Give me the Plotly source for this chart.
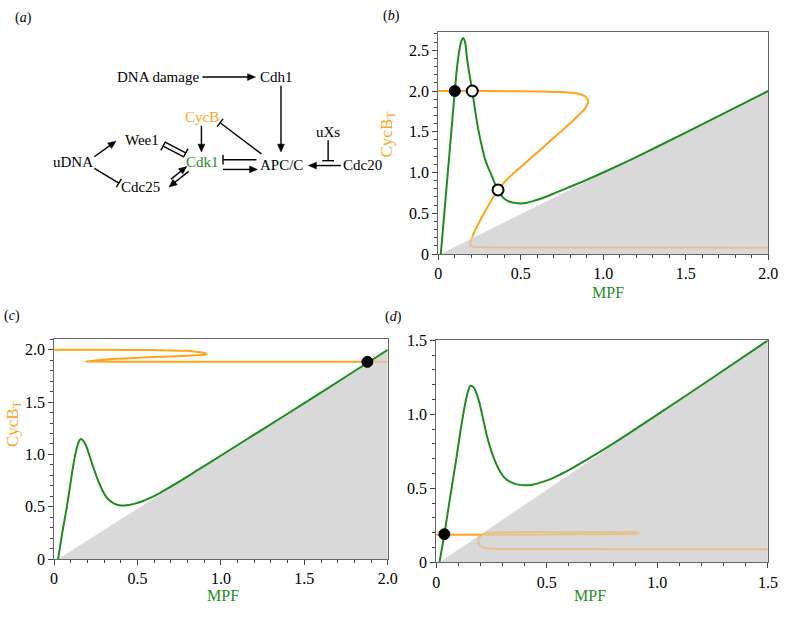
import plotly.graph_objects as go

W, H = 788, 618
GREEN = '#1e8c1e'
ORANGE = '#ffa31a'
PALE = '#e8c08c'
GRAY = '#d9d9d9'
FONT = 'Liberation Serif'

# ---------------- data ----------------
# panel (b)
b_green_x = [0.016, 0.04, 0.07, 0.101, 0.115, 0.13, 0.142, 0.151, 0.163, 0.175, 0.19, 0.207,
             0.225, 0.244, 0.265, 0.284, 0.305, 0.324, 0.345, 0.363, 0.383, 0.403, 0.43, 0.46,
             0.5, 0.54, 0.58, 0.65, 0.72, 0.8, 0.9, 1.0, 1.2, 1.5, 2.0]
b_green_y = [0.0, 0.56, 1.27, 2.0, 2.3, 2.52, 2.62, 2.65, 2.6, 2.4, 2.2, 2.0,
             1.75, 1.52, 1.32, 1.165, 1.05, 0.966, 0.86, 0.787, 0.72, 0.675, 0.645, 0.628,
             0.62, 0.63, 0.653, 0.7, 0.76, 0.825, 0.91, 1.0, 1.19, 1.49, 2.0]
b_orange_x = [0.0, 0.2, 0.4, 0.6, 0.76, 0.82, 0.86, 0.89, 0.905, 0.91, 0.9, 0.889, 0.86, 0.82,
              0.72, 0.62, 0.522, 0.423, 0.363, 0.314, 0.264, 0.224, 0.205]
b_orange_y = [2.0, 2.0, 1.998, 1.993, 1.985, 1.975, 1.96, 1.935, 1.9, 1.865, 1.825, 1.78, 1.72, 1.64,
              1.46, 1.28, 1.105, 0.926, 0.787, 0.628, 0.449, 0.29, 0.2]
b_pale_x = [0.205, 0.197, 0.193, 0.2, 0.22, 0.264, 0.5, 1.0, 1.5, 2.0]
b_pale_y = [0.2, 0.16, 0.125, 0.1, 0.088, 0.083, 0.081, 0.08, 0.079, 0.078]
b_shade_x = [0.016, 2.0, 2.0]
b_shade_y = [0.0, 2.0, 0.0]
b_stable_x, b_stable_y = [0.101], [2.0]
b_unstable_x, b_unstable_y = [0.207, 0.363], [2.0, 0.787]

# panel (c)
c_green_x = [0.024, 0.05, 0.073, 0.095, 0.112, 0.13, 0.145, 0.16, 0.175, 0.19, 0.21, 0.23, 0.25,
             0.269, 0.29, 0.31, 0.33, 0.36, 0.39, 0.42, 0.45, 0.485, 0.53, 0.583, 0.63, 0.681,
             0.75, 0.85, 1.0, 1.25, 1.5, 1.75, 2.0]
c_green_y = [0.0, 0.26, 0.465, 0.69, 0.868, 1.02, 1.11, 1.147, 1.13, 1.09, 1.0, 0.9, 0.81,
             0.73, 0.655, 0.6, 0.565, 0.53, 0.515, 0.513, 0.518, 0.53, 0.553, 0.589, 0.628, 0.675,
             0.74, 0.84, 0.99, 1.24, 1.49, 1.745, 2.0]
c_orange_x = [0.0, 0.3, 0.6, 0.8, 0.86, 0.9, 0.915, 0.9, 0.85, 0.7, 0.5, 0.35, 0.25, 0.19,
              0.25, 0.5, 1.0, 1.5, 1.878]
c_orange_y = [2.0, 2.0, 1.997, 1.99, 1.98, 1.97, 1.96, 1.952, 1.947, 1.937, 1.925, 1.912, 1.898, 1.888,
              1.887, 1.886, 1.885, 1.885, 1.885]
c_pale_x = [1.878, 2.0]
c_pale_y = [1.885, 1.885]
c_shade_x = [0.024, 2.0, 2.0]
c_shade_y = [0.0, 2.0, 0.0]
c_stable_x, c_stable_y = [1.878], [1.885]

# panel (d)
d_green_x = [0.015, 0.037, 0.06, 0.089, 0.105, 0.12, 0.135, 0.145, 0.155, 0.17, 0.185, 0.2,
             0.215, 0.23, 0.25, 0.27, 0.29, 0.31, 0.34, 0.37, 0.4, 0.44, 0.489, 0.53, 0.563,
             0.62, 0.7, 0.8, 1.0, 1.25, 1.5]
d_green_y = [0.0, 0.19, 0.41, 0.68, 0.84, 0.98, 1.1, 1.16, 1.193, 1.18, 1.13, 1.05,
             0.95, 0.85, 0.75, 0.67, 0.61, 0.57, 0.54, 0.525, 0.52, 0.526, 0.547, 0.57, 0.595,
             0.64, 0.71, 0.802, 0.998, 1.247, 1.5]
d_orange_x = [0.0, 0.1, 0.207]
d_orange_y = [0.186, 0.186, 0.186]
d_pale_x = [0.207, 0.4, 0.6, 0.8, 0.88, 0.905, 0.915, 0.905, 0.85, 0.6, 0.35, 0.25, 0.215, 0.196,
            0.191, 0.197, 0.215, 0.26, 0.4, 0.8, 1.2, 1.5]
d_pale_y = [0.186, 0.187, 0.189, 0.191, 0.193, 0.195, 0.199, 0.202, 0.204, 0.204, 0.204, 0.201, 0.192,
            0.17, 0.14, 0.113, 0.098, 0.092, 0.09, 0.089, 0.088, 0.088]
d_shade_x = [0.015, 1.5, 1.5]
d_shade_y = [0.0, 1.5, 0.0]
d_stable_x, d_stable_y = [0.037], [0.19]

# tick labels
ticks_2 = [0, 0.5, 1.0, 1.5, 2.0]
ticks_2_text = ['0', '0.5', '1.0', '1.5', '2.0']
ticks_25 = [0, 0.5, 1.0, 1.5, 2.0, 2.5]
ticks_25_text = ['0', '0.5', '1.0', '1.5', '2.0', '2.5']
ticks_15 = [0, 0.5, 1.0, 1.5]
ticks_15_text = ['0', '0.5', '1.0', '1.5']

# ---------------- figure ----------------
fig = go.Figure()


def add_panel(xa, ya, shade_x, shade_y, green_x, green_y, orange_x, orange_y, pale_x, pale_y,
              stable_x, stable_y, unstable_x=None, unstable_y=None):
    fig.add_trace(go.Scatter(x=shade_x, y=shade_y, fill='toself', fillcolor=GRAY,
                             line=dict(width=0), mode='lines', xaxis=xa, yaxis=ya,
                             showlegend=False, hoverinfo='skip'))
    fig.add_trace(go.Scatter(x=green_x, y=green_y, mode='lines',
                             line=dict(color=GREEN, width=2, shape='spline', smoothing=0.8),
                             xaxis=xa, yaxis=ya, showlegend=False))
    fig.add_trace(go.Scatter(x=pale_x, y=pale_y, mode='lines',
                             line=dict(color=PALE, width=2, shape='spline', smoothing=0.8),
                             xaxis=xa, yaxis=ya, showlegend=False))
    fig.add_trace(go.Scatter(x=orange_x, y=orange_y, mode='lines',
                             line=dict(color=ORANGE, width=2, shape='spline', smoothing=0.8),
                             xaxis=xa, yaxis=ya, showlegend=False))
    fig.add_trace(go.Scatter(x=stable_x, y=stable_y, mode='markers',
                             marker=dict(color='black', size=11, line=dict(color='black', width=1)),
                             xaxis=xa, yaxis=ya, showlegend=False, cliponaxis=False))
    if unstable_x:
        fig.add_trace(go.Scatter(x=unstable_x, y=unstable_y, mode='markers',
                                 marker=dict(color='white', size=11, line=dict(color='black', width=2)),
                                 xaxis=xa, yaxis=ya, showlegend=False))


add_panel('x', 'y', b_shade_x, b_shade_y, b_green_x, b_green_y, b_orange_x, b_orange_y,
          b_pale_x, b_pale_y, b_stable_x, b_stable_y, b_unstable_x, b_unstable_y)
add_panel('x2', 'y2', c_shade_x, c_shade_y, c_green_x, c_green_y, c_orange_x, c_orange_y,
          c_pale_x, c_pale_y, c_stable_x, c_stable_y)
add_panel('x3', 'y3', d_shade_x, d_shade_y, d_green_x, d_green_y, d_orange_x, d_orange_y,
          d_pale_x, d_pale_y, d_stable_x, d_stable_y)


def px_dom_x(a, b):
    return [a / W, b / W]


def px_dom_y(top, bottom):
    return [1 - bottom / H, 1 - top / H]


def axis(rng, dom, tv, tt, anchor):
    return dict(range=rng, domain=dom, anchor=anchor, tickmode='array', tickvals=tv, ticktext=tt,
                ticks='outside', ticklen=5, tickwidth=1, tickcolor='#444',
                showline=True, linecolor='#666', linewidth=1, mirror=True,
                showgrid=False, zeroline=False,
                tickfont=dict(family=FONT, size=16, color='black'),
                minor=dict(tickmode='linear', tick0=0, dtick=0.1, ticks='outside', ticklen=3,
                           tickcolor='#444', showgrid=False))


fig.update_layout(
    width=W, height=H, margin=dict(l=0, r=0, t=0, b=0),
    paper_bgcolor='white', plot_bgcolor='white',
    xaxis=axis([0, 2], px_dom_x(442, 778), ticks_2, ticks_2_text, 'y'),
    yaxis=axis([0, 2.72], px_dom_y(25, 253), ticks_25, ticks_25_text, 'x'),
    xaxis2=axis([0, 2], px_dom_x(51, 390.7), ticks_2, ticks_2_text, 'y2'),
    yaxis2=axis([0, 2.1], px_dom_y(340.7, 566.7), ticks_2, ticks_2_text, 'x2'),
    xaxis3=axis([0, 1.5], px_dom_x(440, 777.7), ticks_15, ticks_15_text, 'y3'),
    yaxis3=axis([0, 1.5], px_dom_y(341.7, 570), ticks_15, ticks_15_text, 'x3'),
)

ann = []
shapes = []


def P(x, y):
    return x / W, 1 - y / H


def text(x, y, s, size=15, color='black', angle=0):
    px, py = P(x, y)
    ann.append(dict(x=px, y=py, xref='paper', yref='paper', text=s, showarrow=False,
                    xanchor='center', yanchor='middle', textangle=angle,
                    font=dict(family=FONT, size=size, color=color)))


def seg(x0, y0, x1, y1):
    a, b = P(x0, y0), P(x1, y1)
    shapes.append(dict(type='line', xref='paper', yref='paper', x0=a[0], y0=a[1], x1=b[0], y1=b[1],
                       line=dict(color='black', width=1.4)))


def arrow(x0, y0, x1, y1, hl=8, hw=3.5):
    dx, dy = x1 - x0, y1 - y0
    L = (dx * dx + dy * dy) ** 0.5
    ux, uy = dx / L, dy / L
    nx, ny = -uy, ux
    seg(x0, y0, x1 - ux * hl * 0.7, y1 - uy * hl * 0.7)
    bx, by = x1 - ux * hl, y1 - uy * hl
    pts = [P(x1, y1), P(bx + nx * hw, by + ny * hw), P(bx - nx * hw, by - ny * hw)]
    path = 'M {:.5f},{:.5f} L {:.5f},{:.5f} L {:.5f},{:.5f} Z'.format(
        pts[0][0], pts[0][1], pts[1][0], pts[1][1], pts[2][0], pts[2][1])
    shapes.append(dict(type='path', xref='paper', yref='paper', path=path,
                       fillcolor='black', line=dict(color='black', width=0.5)))


def tbar(x0, y0, x1, y1, half=5):
    dx, dy = x1 - x0, y1 - y0
    L = (dx * dx + dy * dy) ** 0.5
    nx, ny = -dy / L, dx / L
    seg(x0, y0, x1, y1)
    seg(x1 + nx * half, y1 + ny * half, x1 - nx * half, y1 - ny * half)


# panel letters
text(20, 10, '(<i>a</i>)', 14)
text(394, 8, '(<i>b</i>)', 14)
text(8, 317, '(<i>c</i>)', 14)
text(397, 318, '(<i>d</i>)', 14)

# axis titles
text(615, 293, 'MPF', 16, GREEN)
text(223, 604, 'MPF', 16, GREEN)
text(597, 604, 'MPF', 16, GREEN)
text(391, 130, 'CycB<sub>T</sub>', 17, ORANGE, -90)
text(10, 427, 'CycB<sub>T</sub>', 17, ORANGE, -90)

# network diagram (a)
text(157, 71, 'DNA damage')
text(277, 71, 'Cdh1')
text(202, 112, 'CycB', color=ORANGE)
text(140, 136, 'Wee1')
text(70, 158, 'uDNA')
text(202, 158, 'Cdk1', color=GREEN)
text(283, 161, 'APC/C')
text(330, 127, 'uXs')
text(365, 161, 'Cdc20')
text(139, 184, 'Cdc25')

arrow(202, 71, 256, 71)
arrow(282, 80, 282, 148)
arrow(201, 121, 201, 148)
tbar(262, 150, 220, 118)
arrow(223, 166, 258, 166)
tbar(257, 156, 223, 156)
arrow(343, 162, 310, 162)
tbar(330, 136, 330, 157, 6)
arrow(92, 153, 114, 137)
tbar(92, 165, 117, 180)
tbar(164, 138, 185, 149)
tbar(183, 153, 162, 142)
arrow(170, 176, 186, 163)
arrow(188, 168, 168, 184)

fig.update_layout(annotations=ann, shapes=shapes)
fig.write_html('out.html', config={'displayModeBar': False},
               post_script="document.body.style.margin='0';document.body.style.overflow='hidden';")
